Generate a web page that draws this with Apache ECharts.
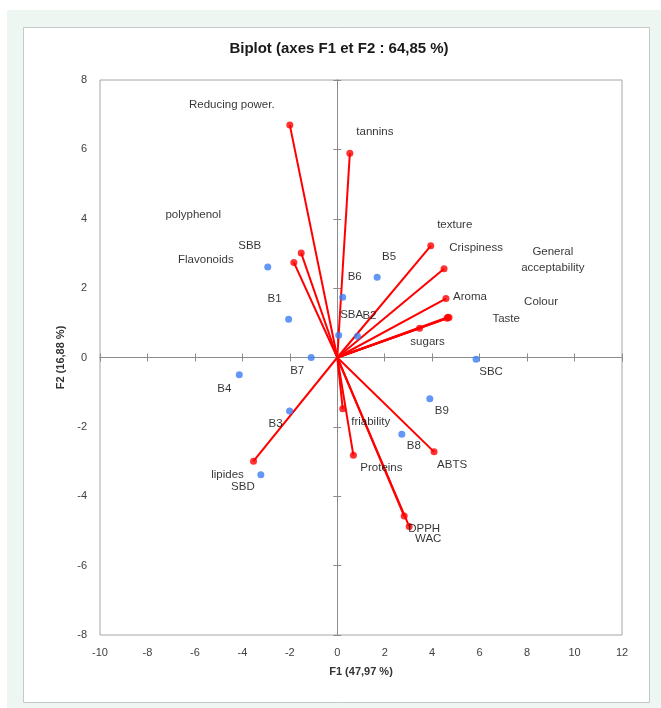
<!DOCTYPE html>
<html>
<head>
<meta charset="utf-8">
<script src="https://cdn.jsdelivr.net/npm/echarts@6/dist/echarts.min.js"></script>
<style>
  html, body { margin: 0; padding: 0; background: #ffffff; }
  #chart { width: 661px; height: 708px; }
</style>
</head>
<body>
<div id="chart"></div>
<script>
// Variables (red vectors from the origin)
const varNames = ['Reducing power.', 'tannins', 'polyphenol', 'Flavonoids', 'texture', 'Crispiness',
  'Aroma', 'General\nacceptability', 'Colour', 'Taste', 'sugars', 'friability', 'Proteins',
  'ABTS', 'DPPH', 'WAC', 'lipides'];
const varF1 = [-2.00, 0.53, -1.52, -1.83, 3.94, 4.50, 4.58, 4.66, 4.71, 4.63, 3.47, 0.23, 0.68, 4.08, 2.82, 3.03, -3.53];
const varF2 = [6.70, 5.89, 3.01, 2.74, 3.22, 2.56, 1.70, 1.16, 1.15, 1.13, 0.84, -1.48, -2.82, -2.72, -4.57, -4.87, -2.99];

// Observations (blue points)
const obsNames = ['SBB', 'B5', 'B6', 'B1', 'SBA', 'B2', 'B7', 'SBC', 'B4', 'B3', 'B9', 'B8', 'SBD'];
const obsF1 = [-2.93, 1.68, 0.23, -2.05, 0.06, 0.85, -1.10, 5.85, -4.13, -2.01, 3.90, 2.72, -3.22];
const obsF2 = [2.61, 2.31, 1.74, 1.10, 0.64, 0.61, 0.00, -0.05, -0.50, -1.54, -1.19, -2.21, -3.38];

// Axis tick values
const xTicks = [-10, -8, -6, -4, -2, 0, 2, 4, 6, 8, 10, 12];
const yTicks = [-8, -6, -4, -2, 0, 2, 4, 6, 8];

// Label placement (pixel offsets of each label centre from its point)
const varLabelOffsets = {
  'Reducing power.': [-58, -20], 'tannins': [25, -21], 'polyphenol': [-108, -38],
  'Flavonoids': [-88, -3], 'texture': [24, -21], 'Crispiness': [32, -21], 'Aroma': [24, -2],
  'General\nacceptability': [105, -57], 'Colour': [92, -16], 'Taste': [59, 1],
  'sugars': [8, 13], 'friability': [28, 13], 'Proteins': [28, 13], 'ABTS': [18, 13],
  'DPPH': [20, 13], 'WAC': [19, 12], 'lipides': [-26, 14]
};
const obsLabelOffsets = {
  'SBB': [-18, -21], 'B5': [12, -21], 'B6': [12, -20], 'B1': [-14, -21], 'SBA': [13, -20],
  'B2': [12, -21], 'B7': [-14, 13], 'SBC': [15, 13], 'B4': [-15, 14], 'B3': [-14, 13],
  'B9': [12, 12], 'B8': [12, 12], 'SBD': [-18, 12]
};

const FONT = "'Liberation Sans', Arial, sans-serif";
const RED = '#ff0000';
const BLUE = '#3b7df2';

const chart = echarts.init(document.getElementById('chart'), null, { renderer: 'canvas' });

const xMin = xTicks[0], xMax = xTicks[xTicks.length - 1];
const yMin = yTicks[0], yMax = yTicks[yTicks.length - 1];
const xStep = xTicks[1] - xTicks[0];
const yStep = yTicks[1] - yTicks[0];

function labelAxisX() {
  return {
    type: 'value', min: xMin, max: xMax, interval: xStep, position: 'bottom',
    axisLine: { show: false, onZero: false }, axisTick: { show: false }, splitLine: { show: false },
    axisLabel: { color: '#404040', fontSize: 11, fontFamily: FONT, margin: 12 },
    name: 'F1 (47,97 %)', nameLocation: 'middle', nameGap: 31,
    nameTextStyle: { color: '#333333', fontWeight: 'bold', fontSize: 11, fontFamily: FONT }
  };
}
function zeroAxisX(inside) {
  return {
    type: 'value', min: xMin, max: xMax, interval: xStep, position: 'bottom',
    axisLine: { show: true, onZero: true, onZeroAxisIndex: 1, lineStyle: { color: '#8c8c8c', width: 1 } },
    axisTick: { show: true, inside: inside, length: 4, lineStyle: { color: '#8c8c8c' } },
    axisLabel: { show: false }, splitLine: { show: false }
  };
}
function labelAxisY() {
  return {
    type: 'value', min: yMin, max: yMax, interval: yStep, position: 'left',
    axisLine: { show: false, onZero: false }, axisTick: { show: false }, splitLine: { show: false },
    axisLabel: { color: '#404040', fontSize: 11, fontFamily: FONT, margin: 13 },
    name: 'F2 (16,88 %)', nameLocation: 'middle', nameGap: 31,
    nameTextStyle: { color: '#333333', fontWeight: 'bold', fontSize: 11, fontFamily: FONT }
  };
}
function zeroAxisY(inside) {
  return {
    type: 'value', min: yMin, max: yMax, interval: yStep, position: 'left',
    axisLine: { show: true, onZero: true, onZeroAxisIndex: 1, lineStyle: { color: '#8c8c8c', width: 1 } },
    axisTick: { show: true, inside: inside, length: 4, lineStyle: { color: '#8c8c8c' } },
    axisLabel: { show: false }, splitLine: { show: false }
  };
}

// One red segment per variable, from the origin to its coordinates
const vectorSeries = varNames.map((n, i) => ({
  type: 'line', name: n, silent: true, symbol: 'none', animation: false,
  xAxisIndex: 0, yAxisIndex: 0, z: 2,
  lineStyle: { color: RED, width: 2 },
  data: [[0, 0], [varF1[i], varF2[i]]]
}));

const varPoints = varNames.map((n, i) => ({
  name: n, value: [varF1[i], varF2[i]],
  label: { offset: varLabelOffsets[n] }
}));
const obsPoints = obsNames.map((n, i) => ({
  name: n, value: [obsF1[i], obsF2[i]],
  label: { offset: obsLabelOffsets[n] }
}));

const labelStyle = {
  show: true, position: 'inside', formatter: '{b}', color: '#000000',
  fontSize: 11.5, fontFamily: FONT, lineHeight: 16, align: 'center', verticalAlign: 'middle'
};

chart.setOption({
  animation: false,
  backgroundColor: '#ffffff',
  title: {
    text: 'Biplot (axes F1 et F2 : 64,85 %)', left: 334, top: 36, textAlign: 'center',
    textStyle: { color: '#1a1a1a', fontSize: 15, fontWeight: 'bold', fontFamily: FONT }
  },
  graphic: [
    { type: 'rect', z: -10, silent: true, shape: { x: 7, y: 10, width: 654, height: 698 },
      style: { fill: '#eef6f1' } },
    { type: 'rect', z: -9, silent: true, shape: { x: 23.5, y: 27.5, width: 626, height: 675 },
      style: { fill: '#ffffff', stroke: '#c8c8c8', lineWidth: 1 } }
  ],
  grid: {
    left: 100, top: 80, width: 522, height: 555, show: true,
    borderColor: '#a6a6a6', borderWidth: 1, backgroundColor: 'transparent'
  },
  xAxis: [labelAxisX(), zeroAxisX(true), zeroAxisX(false)],
  yAxis: [labelAxisY(), zeroAxisY(true), zeroAxisY(false)],
  series: vectorSeries.concat([
    {
      type: 'scatter', name: 'Variables', xAxisIndex: 0, yAxisIndex: 0, z: 3,
      symbol: 'circle', symbolSize: 7, itemStyle: { color: RED },
      label: labelStyle, data: varPoints
    },
    {
      type: 'scatter', name: 'Observations', xAxisIndex: 0, yAxisIndex: 0, z: 4,
      symbol: 'circle', symbolSize: 7, itemStyle: { color: BLUE },
      label: labelStyle, data: obsPoints
    }
  ])
});
</script>
</body>
</html>
